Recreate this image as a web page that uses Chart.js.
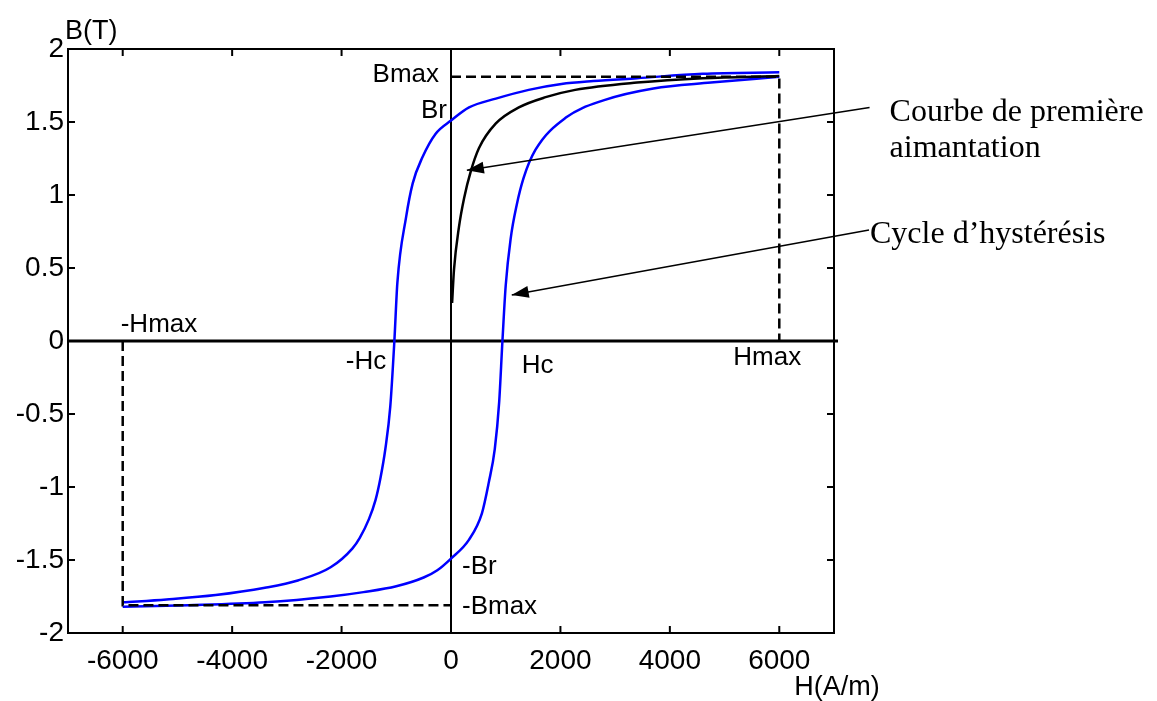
<!DOCTYPE html>
<html>
<head>
<meta charset="utf-8">
<script src="https://cdn.jsdelivr.net/npm/chart.js@4/dist/chart.umd.min.js"></script>
<style>
  body { margin: 0; background: #fff; }
  canvas { display: block; }
</style>
</head>
<body>
<canvas id="cycleChart" width="1157" height="701"></canvas>
<script>
// Valeurs (H en A/m, B en T)
const xTicks = [-6000, -4000, -2000, 0, 2000, 4000, 6000];
const yTicks = [-2, -1.5, -1, -0.5, 0, 0.5, 1, 1.5, 2];

// branche descendante (passe par Br et -Hc)
const hautH = [-6000, -5200, -4300, -3400, -2800, -2200, -1800, -1670, -1500, -1380, -1290, -1200, -1110, -1035, -980, -820, -700, -520, -280, 0, 330, 820, 1420, 2020, 2600, 3400, 4600, 6000];
const hautB = [-1.79, -1.77, -1.74, -1.69, -1.64, -1.55, -1.42, -1.35, -1.22, -1.09, -0.94, -0.74, -0.45, 0, 0.40, 0.85, 1.08, 1.26, 1.42, 1.51, 1.60, 1.66, 1.72, 1.76, 1.78, 1.80, 1.83, 1.84];

// branche montante (passe par -Br et Hc)
const basH = [-6000, -4800, -3400, -2200, -1600, -1000, -500, -250, 0, 330, 565, 690, 800, 880, 940, 1000, 1090, 1200, 1330, 1545, 2100, 2800, 3700, 4750, 6000];
const basB = [-1.82, -1.81, -1.79, -1.75, -1.72, -1.68, -1.62, -1.57, -1.49, -1.36, -1.18, -0.97, -0.74, -0.42, 0, 0.38, 0.70, 0.93, 1.12, 1.31, 1.53, 1.65, 1.73, 1.77, 1.81];

// courbe de première aimantation
const premH = [20, 55, 145, 240, 360, 510, 820, 1240, 1730, 2270, 3400, 4600, 6000];
const premB = [0.26, 0.49, 0.78, 0.98, 1.16, 1.32, 1.49, 1.60, 1.67, 1.72, 1.77, 1.80, 1.815];

const Hmax = 6000, Bmax = 1.81, Br = 1.5, Hc = 1000;

const pts = (xs, ys) => xs.map((x, i) => ({ x: x, y: ys[i] }));

// dessine les éléments façon matlab : cadre, graduations internes, axes, textes, flèches
const decorPlugin = {
  id: 'decor',
  beforeDatasetsDraw(chart) {
    const ctx = chart.ctx, a = chart.chartArea;
    const xs = chart.scales.x, ys = chart.scales.y;
    ctx.save();
    ctx.strokeStyle = '#000';
    // axes passant par zero
    ctx.lineWidth = 3;
    ctx.beginPath();
    ctx.moveTo(a.left, ys.getPixelForValue(0));
    ctx.lineTo(a.right + 4, ys.getPixelForValue(0));
    ctx.stroke();
    ctx.lineWidth = 2;
    ctx.beginPath();
    ctx.moveTo(xs.getPixelForValue(0), a.top);
    ctx.lineTo(xs.getPixelForValue(0), a.bottom);
    ctx.stroke();
    ctx.restore();
  },
  afterDraw(chart) {
    const ctx = chart.ctx, a = chart.chartArea;
    const xs = chart.scales.x, ys = chart.scales.y;
    const px = v => xs.getPixelForValue(v), py = v => ys.getPixelForValue(v);
    ctx.save();
    ctx.strokeStyle = '#000';
    ctx.lineWidth = 2;
    ctx.strokeRect(a.left, a.top, a.right - a.left, a.bottom - a.top);
    const t = 7;
    ctx.beginPath();
    xTicks.forEach(v => {
      ctx.moveTo(px(v), a.bottom); ctx.lineTo(px(v), a.bottom - t);
      ctx.moveTo(px(v), a.top); ctx.lineTo(px(v), a.top + t);
    });
    yTicks.forEach(v => {
      ctx.moveTo(a.left, py(v)); ctx.lineTo(a.left + t, py(v));
      ctx.moveTo(a.right, py(v)); ctx.lineTo(a.right - t, py(v));
    });
    ctx.stroke();

    // étiquettes
    ctx.fillStyle = '#000';
    ctx.font = '26px "Liberation Sans", Arial, sans-serif';
    ctx.textBaseline = 'middle';
    ctx.textAlign = 'right';
    ctx.fillText('Bmax', px(0) - 12, py(Bmax) - 2);
    ctx.fillText('Br', px(0) - 4, py(Br) - 11);
    ctx.fillText('-Hc', px(-Hc) - 10, py(0) + 21);
    ctx.textAlign = 'left';
    ctx.fillText('-Hmax', px(-Hmax) - 2, py(0) - 16);
    ctx.fillText('Hc', px(Hc) + 16, py(0) + 25);
    ctx.fillText('Hmax', px(Hmax) - 46, py(0) + 17);
    ctx.fillText('-Br', px(0) + 11, py(-Br) + 7);
    ctx.fillText('-Bmax', px(0) + 11, py(-Bmax) + 2);
    ctx.font = '27px "Liberation Sans", Arial, sans-serif';
    ctx.fillText('B(T)', a.left - 3, a.top - 17);
    ctx.fillText('H(A/m)', px(Hmax) + 15, a.bottom + 55);

    // flèches d'annotation
    const fleche = (x0, y0, x1, y1) => {
      ctx.lineWidth = 1.5;
      ctx.beginPath();
      ctx.moveTo(x0, y0); ctx.lineTo(x1, y1);
      ctx.stroke();
      const ang = Math.atan2(y1 - y0, x1 - x0), L = 17, W = 6;
      ctx.beginPath();
      ctx.moveTo(x1, y1);
      ctx.lineTo(x1 - L * Math.cos(ang) + W * Math.sin(ang), y1 - L * Math.sin(ang) - W * Math.cos(ang));
      ctx.lineTo(x1 - L * Math.cos(ang) - W * Math.sin(ang), y1 - L * Math.sin(ang) + W * Math.cos(ang));
      ctx.closePath();
      ctx.fill();
    };
    const d1 = { x: px(7650), y: py(1.6) };
    const d2 = { x: px(7640), y: py(0.76) };
    fleche(d1.x, d1.y, px(290), py(1.17));
    fleche(d2.x, d2.y, px(1110), py(0.315));

    ctx.font = '32px "Liberation Serif", "Times New Roman", serif';
    ctx.textBaseline = 'alphabetic';
    ctx.textAlign = 'left';
    ctx.fillText('Courbe de première', d1.x + 20, d1.y + 14);
    ctx.fillText('aimantation', d1.x + 20, d1.y + 50);
    ctx.fillText('Cycle d\u2019hystérésis', d2.x + 1, d2.y + 13);
    ctx.restore();
  }
};

new Chart(document.getElementById('cycleChart'), {
  type: 'scatter',
  data: {
    datasets: [
      {
        label: 'Bmax',
        data: [{ x: 0, y: Bmax }, { x: Hmax, y: Bmax }, { x: Hmax, y: 0 }],
        showLine: true, borderColor: '#000', borderWidth: 2.5, borderDash: [10, 5],
        pointRadius: 0, order: 0
      },
      {
        label: '-Bmax',
        data: [{ x: -Hmax, y: 0 }, { x: -Hmax, y: -Bmax }, { x: 0, y: -Bmax }],
        showLine: true, borderColor: '#000', borderWidth: 2.5, borderDash: [10, 5],
        pointRadius: 0, order: 0
      },
      {
        label: 'Première aimantation',
        data: pts(premH, premB),
        showLine: true, borderColor: '#000', borderWidth: 2.5,
        pointRadius: 0, cubicInterpolationMode: 'monotone', order: 1
      },
      {
        label: 'Branche descendante',
        data: pts(hautH, hautB),
        showLine: true, borderColor: '#0000ff', borderWidth: 2.5,
        pointRadius: 0, cubicInterpolationMode: 'monotone', order: 2
      },
      {
        label: 'Branche montante',
        data: pts(basH, basB),
        showLine: true, borderColor: '#0000ff', borderWidth: 2.5,
        pointRadius: 0, cubicInterpolationMode: 'monotone', order: 2
      }
    ]
  },
  options: {
    responsive: false,
    animation: false,
    layout: { padding: { left: 0, top: 49, right: 323, bottom: 18 } },
    plugins: { legend: { display: false }, tooltip: { enabled: false } },
    scales: {
      x: {
        type: 'linear', min: -7000, max: 7000,
        afterBuildTicks: s => { s.ticks = xTicks.map(v => ({ value: v })); },
        afterFit: s => { s.height = 50; },
        grid: { display: false, drawTicks: false },
        border: { display: false },
        ticks: {
          color: '#000', padding: 11,
          font: { family: '"Liberation Sans", Arial, sans-serif', size: 28 },
          callback: v => String(v)
        }
      },
      y: {
        type: 'linear', min: -2, max: 2,
        afterBuildTicks: s => { s.ticks = yTicks.map(v => ({ value: v })); },
        afterFit: s => { s.width = 68; },
        grid: { display: false, drawTicks: false },
        border: { display: false },
        ticks: {
          color: '#000', padding: 4,
          font: { family: '"Liberation Sans", Arial, sans-serif', size: 28 },
          callback: v => String(v)
        }
      }
    }
  },
  plugins: [decorPlugin]
});
</script>
</body>
</html>
